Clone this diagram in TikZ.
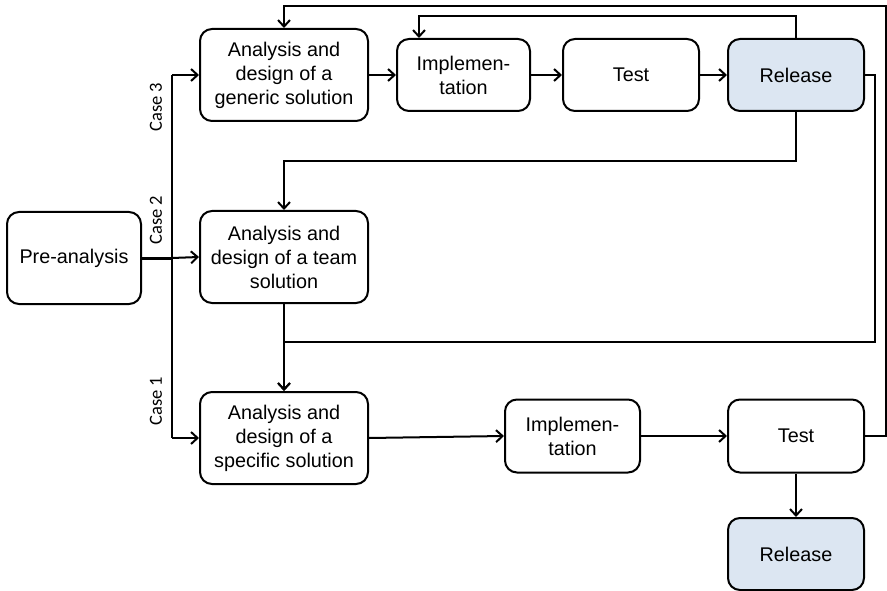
\documentclass[tikz,border=0pt]{standalone}
\usepackage{fontspec}
\setmainfont{Liberation Sans}
\newfontfamily\casefont{Carlito}
\usetikzlibrary{arrows.meta,calc}
\definecolor{relfill}{RGB}{220,230,242}
\begin{document}
\begin{tikzpicture}[x=1pt,y=-1pt,
  box/.style={draw,line width=2pt,rounded corners=12pt,align=center,inner sep=0pt,
    font=\fontsize{19.8}{24}\selectfont},
  wide/.style={box,minimum width=168pt,minimum height=92pt},
  small/.style={box,minimum width=136pt,minimum height=72pt},
  rel/.style={small,fill=relfill},
  conn/.style={line width=2pt},
  arr/.style={conn,-{Straight Barb[length=6.5pt,width=12pt]}},
  caselbl/.style={rotate=90,font=\casefont\fontsize{18.5}{22}\selectfont,inner sep=0pt}]
\useasboundingbox (0,0) rectangle (887,591);
% nodes
\node[box,minimum width=134pt,minimum height=92pt] (pre) at (74,258) {Pre-analysis};
\node[wide] (gen) at (284,75) {Analysis and\\design of a\\generic solution};
\node[small,minimum width=133pt] (impl1) at (463.5,75) {Implemen-\\tation};
\node[small] (test1) at (631,75) {Test};
\node[rel] (rel1) at (796,75) {Release};
\node[wide] (team) at (284,257) {Analysis and\\design of a team\\solution};
\node[wide] (spec) at (284,438) {Analysis and\\design of a\\specific solution};
\node[small,minimum width=135pt,minimum height=73pt] (impl2) at (572.5,436) {Implemen-\\tation};
\node[small,minimum height=73pt] (test2) at (796,436) {Test};
\node[rel] (rel2) at (796,554) {Release};
% case labels
\node[caselbl] (case3) at (156,107) {Case 3};
\node[caselbl] (case2) at (156,220) {Case 2};
\node[caselbl] (case1) at (156,401) {Case 1};
% coordinates
\coordinate (bt) at (172,75);
\coordinate (bm) at (172,258);
\coordinate (bb) at (172,438);
\coordinate (c1) at (419,16);
\coordinate (c2) at (886,6);
\coordinate (c3) at (875,342);
\coordinate (c4) at (796,161);
% connectors
\draw[line width=3pt] (pre.east) -- (bm);
\draw[arr] (bm) -- (team.west);
\draw[conn] (bt) -- (bb);
\draw[arr] (bt) -- (gen.west);
\draw[arr] (bb) -- (spec.west);
\draw[arr] (gen) -- (impl1);
\draw[arr] (impl1) -- (test1);
\draw[arr] (test1) -- (rel1);
\draw[arr] (rel1.north) |- (c1) -- (c1 |- impl1.north);
\draw[arr] (test2.east) -| (c2) -| (gen.north);
\draw[arr] (rel1.east) -| (c3) -| (spec.north);
\draw[arr] (rel1.south) -- (c4) -| (team.north);
\draw[arr] (team.south) -- (spec.north);
\draw[arr] (spec.east) -- (impl2.west);
\draw[arr] (impl2) -- (test2);
\draw[arr] (test2) -- (rel2);
\end{tikzpicture}
\end{document}
